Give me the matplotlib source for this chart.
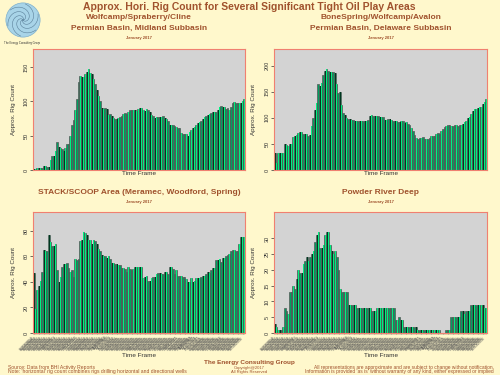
import numpy as np
import pandas as pd
import matplotlib
matplotlib.use('Agg')
import matplotlib.pyplot as plt
from matplotlib.patches import Circle

plt.rcParams['font.family'] = ['Liberation Sans', 'DejaVu Sans']

# rig counts (one value per report)
midland = [2, 2, 3, 3, 3, 3, 6, 6, 5, 4, 15, 20, 20, 28, 41, 34, 32, 30, 27, 32,
           38, 38, 50, 65, 73, 87, 104, 128, 137, 136, 136, 140, 143, 147, 142, 140, 132, 125, 117, 108,
           101, 90, 89, 90, 89, 80, 81, 79, 76, 74, 74, 76, 77, 79, 81, 83, 82, 84, 88, 88,
           88, 87, 86, 89, 91, 90, 88, 86, 89, 88, 85, 80, 79, 76, 77, 77, 77, 77, 78, 76,
           74, 71, 65, 66, 66, 64, 62, 61, 61, 54, 53, 52, 52, 50, 56, 58, 61, 63, 66, 68,
           70, 72, 75, 77, 78, 80, 81, 83, 84, 84, 84, 88, 92, 93, 92, 92, 89, 90, 87, 92,
           98, 99, 97, 97, 97, 97, 100, 103]
delaware = [32, 14, 32, 32, 32, 32, 49, 47, 46, 50, 50, 64, 65, 67, 70, 72, 72, 69, 69, 69,
            66, 67, 85, 100, 115, 129, 164, 160, 167, 182, 190, 193, 190, 187, 188, 188, 186, 165, 147, 150,
            125, 109, 106, 100, 98, 97, 95, 95, 94, 94, 94, 94, 94, 94, 94, 93, 95, 103, 105, 104,
            103, 103, 104, 102, 102, 101, 96, 96, 98, 98, 96, 94, 94, 94, 92, 92, 93, 94, 90, 92,
            88, 86, 80, 75, 67, 62, 60, 61, 62, 63, 60, 59, 59, 61, 66, 66, 66, 68, 70, 69,
            75, 78, 82, 84, 86, 86, 84, 85, 86, 86, 84, 86, 86, 88, 91, 94, 99, 101, 108, 113,
            116, 117, 119, 121, 121, 127, 130, 135]
stack_scoop = [47, 19, 34, 37, 41, 48, 65, 64, 64, 77, 71, 68, 68, 70, 49, 40, 44, 52, 54, 54,
               55, 51, 48, 49, 44, 58, 57, 58, 72, 73, 79, 78, 77, 73, 73, 70, 73, 72, 70, 66,
               64, 61, 60, 60, 59, 60, 58, 55, 55, 54, 54, 53, 53, 51, 51, 50, 48, 52, 50, 49,
               50, 52, 52, 52, 52, 52, 43, 44, 45, 41, 41, 43, 44, 44, 46, 47, 47, 46, 46, 48,
               48, 46, 52, 52, 50, 46, 49, 45, 45, 45, 44, 44, 42, 40, 40, 43, 40, 41, 43, 43,
               43, 44, 45, 45, 46, 48, 47, 49, 51, 51, 57, 57, 58, 56, 59, 59, 60, 61, 62, 64,
               65, 65, 64, 64, 70, 75, 75, 75]
powder_river = [3, 2, 1, 1, 1, 2, 8, 7, 6, 13, 13, 15, 14, 17, 20, 19, 19, 22, 23, 24,
                23, 24, 25, 26, 29, 31, 32, 27, 27, 28, 31, 32, 32, 28, 26, 25, 26, 24, 20, 14,
                13, 13, 13, 13, 9, 9, 9, 9, 9, 8, 8, 8, 8, 8, 8, 8, 8, 8, 7, 7,
                7, 8, 8, 8, 8, 8, 8, 8, 8, 8, 8, 8, 4, 4, 5, 4, 4, 2, 2, 2,
                2, 2, 2, 2, 2, 1, 1, 1, 1, 1, 1, 1, 1, 1, 1, 1, 1, 1, 1, 0,
                0, 0, 1, 1, 1, 5, 5, 5, 5, 5, 5, 7, 7, 6, 7, 7, 7, 9, 9, 9,
                9, 9, 9, 9, 9, 8, 8]

# report dates (tick labels, unreadable in the reference)
report_dates = [d.strftime('%m/%d/%Y') for d in pd.date_range('2014-01-03', periods=128, freq='7D')]

titles = [['Wolfcamp/Spraberry/Cline', 'Permian Basin, Midland Subbasin'],
          ['BoneSpring/Wolfcamp/Avalon', 'Permian Basin, Delaware Subbasin'],
          ['STACK/SCOOP Area (Meramec, Woodford, Spring)'],
          ['Powder River Deep']]
series = [midland, delaware, stack_scoop, powder_river]
yticks = [[0, 50, 100, 150], [0, 50, 100, 150, 200], [0, 20, 40, 60, 80], [0, 5, 10, 15, 20, 25, 30]]

bg = '#FFF8CC'
brown = '#A0522D'
spine = '#F08070'

fig = plt.figure(figsize=(5, 3.75), dpi=100, facecolor=bg)
W, H = 500, 375

def px_axes(x0, y0, x1, y1):
    return fig.add_axes([x0 / W, 1 - y1 / H, (x1 - x0) / W, (y1 - y0) / H])

boxes = [(33, 49, 245, 170), (274, 49, 487, 170), (33, 212, 245, 333), (274, 212, 487, 333)]

for i, (vals, box) in enumerate(zip(series, boxes)):
    ax = px_axes(*box)
    ax.set_facecolor('#D3D3D3')
    x = np.arange(len(vals))
    ax.bar(x, vals, width=1.0, color='#00A060', edgecolor='#555555', linewidth=0.5)
    ax.bar(x + 0.1, vals, width=0.25, color='#00F080', linewidth=0)
    ax.bar(x + 0.45, vals, width=0.15, color='#003820', linewidth=0)
    ax.set_xlim(-0.5, len(vals) - 0.5)
    ax.set_ylim(0, max(vals) * 1.2)
    ax.set_yticks(yticks[i])
    ax.set_yticklabels([str(t) for t in yticks[i]], rotation=90, va='center', fontsize=4, color='#333333')
    ax.tick_params(axis='y', length=2, width=0.5, pad=1, colors='#333333')
    for s in ['left', 'top', 'right', 'bottom']:
        ax.spines[s].set_color(spine)
        ax.spines[s].set_linewidth(0.8)
    if i < 2:
        ax.set_xticks([])
        ax.set_xlabel('Time Frame', fontsize=4.6, color='#333333', labelpad=1)
    else:
        ax.set_xticks(x)
        ax.set_xticklabels(report_dates[:len(vals)], rotation=45, ha='right', fontsize=2.6, color='#555555')
        ax.tick_params(axis='x', length=1.5, width=0.3, pad=0.5, colors='#555555')
        ax.set_xlabel('Time Frame', fontsize=4.6, color='#333333', labelpad=1)
    ax.set_ylabel('Approx. Rig Count', fontsize=4.5, color='#333333', labelpad=6)

    cx = (box[0] + box[2]) / 2 / W
    if i < 2:
        fig.text(cx, 1 - 17.5 / H, titles[i][0], ha='center', va='center', fontsize=6, fontweight='bold', color=brown)
        fig.text(cx, 1 - 28 / H, titles[i][1], ha='center', va='center', fontsize=6, fontweight='bold', color=brown)
        fig.text(cx, 1 - 38.5 / H, 'January 2017', ha='center', va='center', fontsize=3, fontweight='bold', color=brown)
    else:
        fig.text(cx, 1 - 192 / H, titles[i][0], ha='center', va='center', fontsize=6, fontweight='bold', color=brown)
        fig.text(cx, 1 - 201.5 / H, 'January 2017', ha='center', va='center', fontsize=3, fontweight='bold', color=brown)

# main title
fig.text(249 / W, 1 - 7.5 / H, 'Approx. Hori. Rig Count for Several Significant Tight Oil Play Areas',
         ha='center', va='center', fontsize=7.5, fontweight='bold', color=brown)

# logo
lax = fig.add_axes([5 / W, 1 - 38 / H, 36 / W, 36 / H])
lax.set_xlim(-1, 1)
lax.set_ylim(-1, 1)
lax.set_aspect('equal')
lax.axis('off')
lax.add_patch(Circle((0, 0), 0.95, facecolor='#A8D4E8', edgecolor='#7FB0CC', linewidth=0.5))
for k in range(6):
    t = np.linspace(0, 2.2, 40)
    r = 0.9 * t / 2.2
    a = t * 1.6 + k * np.pi / 3
    lax.plot(r * np.cos(a), r * np.sin(a), color='#5A7F99', linewidth=0.4)
fig.text(22 / W, 1 - 43 / H, 'The Energy Consulting Group', ha='center', va='center', fontsize=2, color='#333333')

# footer
fig.text(249 / W, 1 - 362.5 / H, 'The Energy Consulting Group', ha='center', va='center',
         fontsize=4.6, fontweight='bold', color=brown)
fig.text(249 / W, 1 - 367.5 / H, 'Copyright@2017', ha='center', va='center', fontsize=3, color=brown)
fig.text(249 / W, 1 - 371.5 / H, 'All Rights Reserved', ha='center', va='center', fontsize=3, color=brown)
fig.text(8 / W, 1 - 367.5 / H, 'Source: Data from BHI Activity Reports', ha='left', va='center', fontsize=3.6, color=brown)
fig.text(8 / W, 1 - 371.5 / H, "Note: 'horizontal' rig count combines rigs drilling horizontal and directional wells",
         ha='left', va='center', fontsize=3.6, color=brown)
fig.text(494 / W, 1 - 367.5 / H, 'All representations are approximate and are subject to change without notification.',
         ha='right', va='center', fontsize=3.5, color=brown)
fig.text(494 / W, 1 - 371.5 / H, "Information is provided 'as is' without warranty of any kind, either expressed or implied",
         ha='right', va='center', fontsize=3.5, color=brown)

fig.savefig('out.png', dpi=100, facecolor=bg)
